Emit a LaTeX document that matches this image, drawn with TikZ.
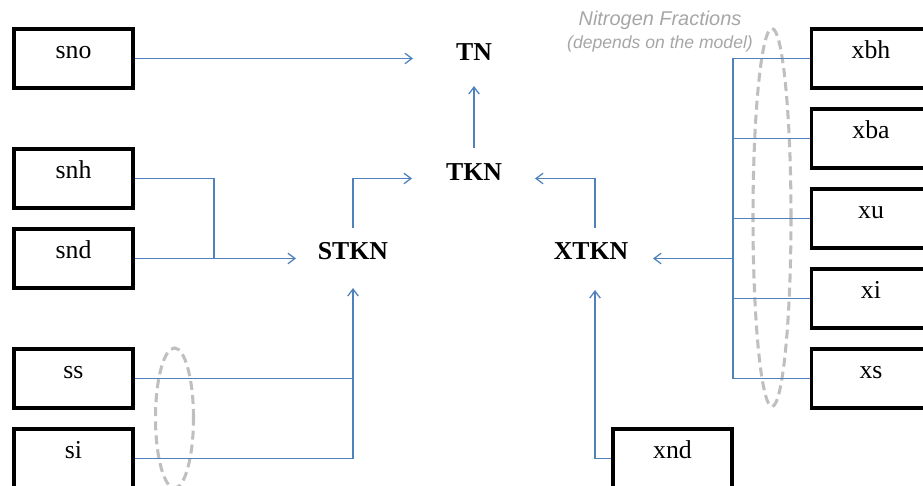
\documentclass[tikz,border=0pt]{standalone}
\usepackage{fontspec}
\setmainfont{Liberation Serif}
\newfontfamily\notefont{Liberation Sans}
\usepackage{tikz}
\usetikzlibrary{arrows.meta}
\usetikzlibrary{shapes.geometric}

\definecolor{linkblue}{RGB}{79,129,189}
\definecolor{notegray}{RGB}{166,166,166}
\definecolor{ringgray}{RGB}{191,191,191}

\tikzset{
  fraction/.style={draw,rectangle,line width=3.4pt,minimum width=3.57cm,minimum height=1.77cm,
    inner sep=0pt,text height=0.3cm,text depth=0.3cm,font=\fontsize{22}{26}\selectfont},
  total/.style={inner sep=0pt,font=\fontsize{22}{26}\selectfont\bfseries},
  link/.style={draw=linkblue,line width=1.1pt,>={Straight Barb[length=6pt,width=9pt]}},
  ring/.style={draw=ringgray,ellipse,line width=2.6pt,dash pattern=on 7.7pt off 4.3pt,inner sep=0pt},
  note/.style={text=notegray,font=\notefont\itshape\fontsize{17}{20}\selectfont}
}

\begin{document}
\begin{tikzpicture}[x=0.03cm,y=-0.03cm]

  \useasboundingbox (0,0) rectangle (923,486);

  \node [ring,minimum width=1.14cm,minimum height=4.2cm] (sring) at (174.5,418) {};
  \node [ring,minimum width=1.14cm,minimum height=11.34cm] (xring) at (772,217.5) {};

  \node [note] (fractitle) at (660,20) {Nitrogen Fractions};
  \node [note,font=\notefont\itshape\fontsize{15}{18}\selectfont] (fracnote) at (660,44) {(depends on the model)};

  \node [fraction] (sno) at (73.5,58.5)  {sno};
  \node [fraction] (snh) at (73.5,178.5) {snh};
  \node [fraction] (snd) at (73.5,258.5) {snd};
  \node [fraction] (ss)  at (73.5,378.5) {ss};
  \node [fraction] (si)  at (73.5,458.5) {si};

  \node [fraction] (xbh) at (871,58.5)  {xbh};
  \node [fraction] (xba) at (871,138.5) {xba};
  \node [fraction] (xu)  at (871,218.5) {xu};
  \node [fraction] (xi)  at (871,298.5) {xi};
  \node [fraction] (xs)  at (871,378.5) {xs};
  \node [fraction] (xnd) at (672.5,458.5) {xnd};

  \node [total] (TN)   at (474,52)    {TN};
  \node [total] (TKN)  at (474,172.5) {TKN};
  \node [total] (STKN) at (353,251.5) {STKN};
  \node [total] (XTKN) at (591,251.5) {XTKN};

  \coordinate (sjoin) at (214,258.5);
  \coordinate (xbus)  at (733,258.5);

  % soluble side
  \draw [link,->,shorten >=1.83cm] (sno.east) -- (sno.east -| TN.center);
  \draw [link] (snh.east) -| (sjoin);
  \draw [link,->,shorten >=1.71cm] (snd.east) -- (snd.east -| STKN.center);
  \draw [link] (ss.east) -- (ss.east -| STKN.center);
  \draw [link,->,shorten >=1.095cm] (si.east) -| (STKN.center);

  % particulate side
  \foreach \f in {xbh,xba,xu,xi,xs}
    \draw [link] (\f.west) -- (\f.west -| xbus);
  \draw [link] (xbh.west -| xbus) -- (xs.west -| xbus);
  \draw [link,->,shorten >=1.86cm] (xbus) -- (xbus -| XTKN.center);
  \draw [link,->,shorten >=1.155cm] (xnd.west) -| ([xshift=0.12cm]XTKN.center);

  % totals
  \draw [link,->,shorten <=0.705cm,shorten >=1.86cm] (STKN.center) |- ([yshift=-0.18cm]TKN.center);
  \draw [link,->,shorten <=0.705cm,shorten >=1.83cm] ([xshift=0.12cm]XTKN.center) |- ([yshift=-0.18cm]TKN.center);
  \draw [link,->,shorten <=0.735cm,shorten >=1.02cm] (TKN.center) -- (TN.center);

\end{tikzpicture}
\end{document}
